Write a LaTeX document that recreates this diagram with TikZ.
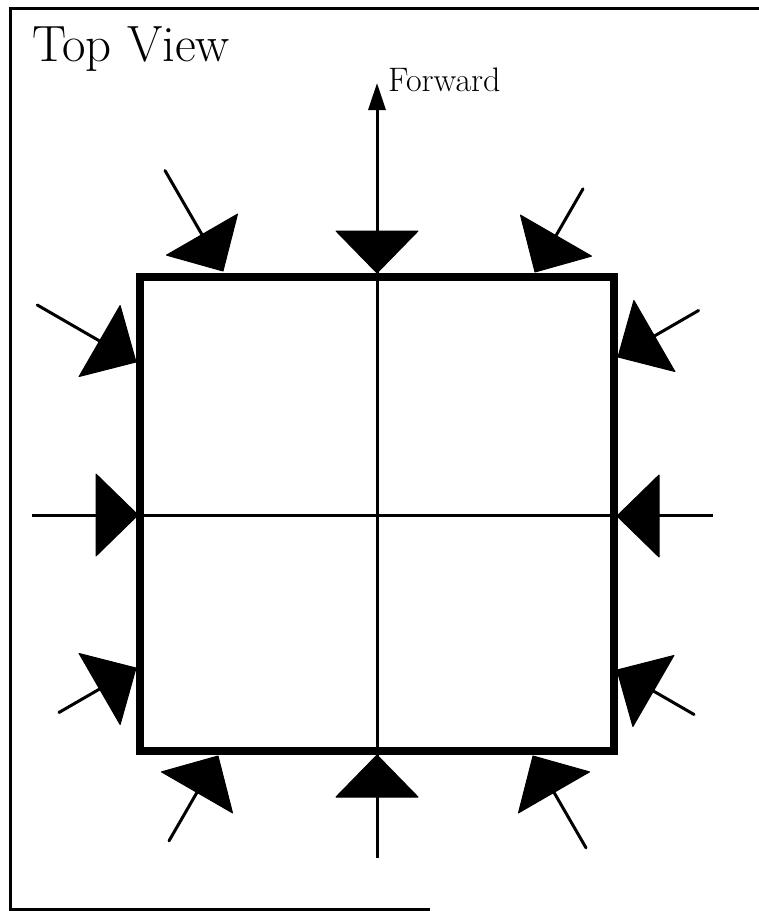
\documentclass[tikz,border=0pt]{standalone}
\usetikzlibrary{arrows.meta,calc}
\tikzset{
  thinline/.style={line width=3pt, line cap=round},
  hull/.style={line width=8pt, line join=miter},
  headfill/.style={fill=black, draw=black, line width=1pt, line join=round},
  frameline/.style={line width=3pt},
}
% tip coordinate, travel angle (screen, clockwise from +x)
\newcommand{\thrusthead}[2]{%
  \path[headfill] (#1) -- ($(#1)+(#2+180:42)+(#2+90:41)$) -- ($(#1)+(#2+180:42)+(#2-90:41)$) -- cycle;}
\newcommand{\thruster}[3]{%
  \draw[thinline] ($(#1)+(#2+180:#3)$) -- ($(#1)+(#2+180:38)$);
  \thrusthead{#1}{#2}}
\begin{document}
\begin{tikzpicture}[x=1pt,y=-1pt]
\useasboundingbox (0,0) rectangle (759,911);
% frame
\draw[frameline] (759,8) -- (10,8) -- (10,909) -- (430,909);
% title
\node[anchor=base west, inner sep=0pt, font=\fontsize{51}{58}\selectfont] (title) at (32,61) {Top View};
% hull
\coordinate (c) at (377,515);
\draw[hull] (140,277) rectangle (614,751);
% axes
\coordinate (xl) at (32,515);
\coordinate (xr) at (713,515);
\coordinate (yb) at (377,858);
\coordinate (yt) at (377,83);
\draw[line width=3pt] (xl) -- (xr);
\draw[line width=3pt, -{Triangle[length=27pt,width=17pt]}] (yb) -- (yt);
\node[anchor=base west, inner sep=0pt, font=\fontsize{34}{40}\selectfont] (fwd) at (388,91) {Forward};
% thruster tips
\coordinate (tl) at (223,271);
\coordinate (tc) at (377,273);
\coordinate (tr) at (535,272);
\coordinate (ru) at (618,357);
\coordinate (rm) at (617,516);
\coordinate (rl) at (617,670);
\coordinate (br) at (533,756);
\coordinate (bc) at (377,755);
\coordinate (bl) at (218,756);
\coordinate (ll) at (136,668);
\coordinate (lm) at (138,515);
\coordinate (lu) at (136,362);
\thruster{tl}{60}{116}
\thrusthead{tc}{90}
\thruster{tr}{120}{96}
\thruster{ru}{150}{93}
\thrusthead{rm}{180}
\thruster{rl}{210}{89}
\thruster{br}{240}{106}
\thrusthead{bc}{270}
\thruster{bl}{300}{98}
\thruster{ll}{330}{89}
\thrusthead{lm}{0}
\thruster{lu}{30}{114}
\end{tikzpicture}
\end{document}
